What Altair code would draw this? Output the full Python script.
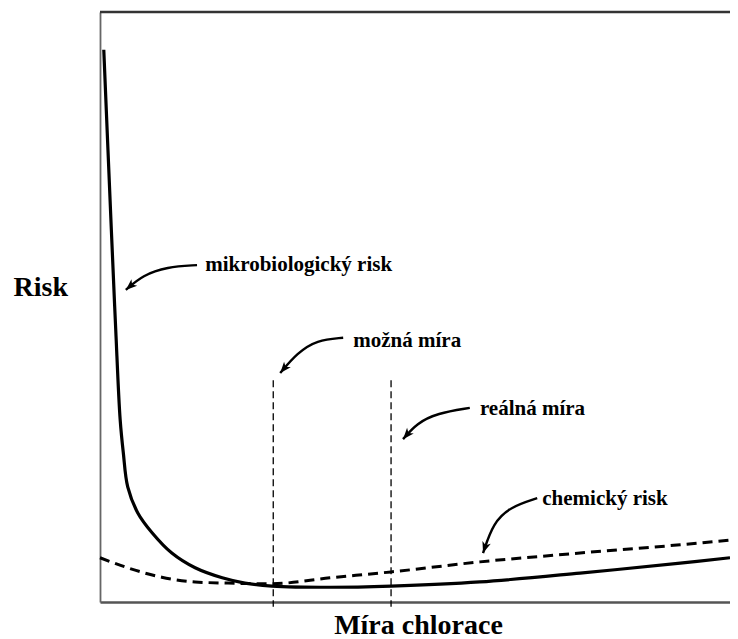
import math
import altair as alt
import pandas as pd

W, H = 630, 590
FONT = "Liberation Serif"

# --- data (nominal units 0..100 on both axes) ---
micro_x = [0.6, 1.8, 2.5, 3.2, 3.7, 4.4, 6.0, 8.3, 11.4, 15.1, 19.4, 23.0, 27.3, 36.5, 46.2, 60.3, 76.2, 92.1, 100.0]
micro_y = [93.6, 63.1, 46.1, 30.9, 25.3, 19.5, 15.1, 11.7, 8.3, 5.8, 4.1, 3.2, 2.7, 2.5, 2.7, 3.4, 4.9, 6.6, 7.5]

chem_x = [0.0, 4.4, 9.8, 15.1, 20.3, 27.3, 36.5, 46.2, 60.3, 76.2, 92.1, 100.0]
chem_y = [7.5, 5.8, 4.2, 3.4, 3.2, 3.1, 4.1, 5.1, 6.8, 8.3, 9.7, 10.5]

level_x = [27.5, 46.2]          # možná míra, reálná míra
level_top = [37.6, 37.6]
level_bottom = [-0.8, -0.8]

label_text = ["mikrobiologický risk", "možná míra", "reálná míra", "chemický risk"]
label_x = [16.7, 40.2, 60.3, 70.2]
label_y = [56.1, 43.2, 31.7, 16.4]

arrow_x = [
    [15.4, 10.6, 6.8, 4.1],
    [38.6, 34.4, 31.3, 28.6],
    [58.7, 53.5, 50.3, 48.1],
    [69.4, 65.1, 62.4, 60.8],
]
arrow_y = [
    [57.1, 56.8, 55.4, 52.9],
    [44.8, 44.4, 42.2, 38.8],
    [32.9, 32.0, 30.3, 27.6],
    [17.6, 16.1, 13.4, 8.3],
]

# --- tables ---
micro_df = pd.DataFrame({"x": micro_x, "y": micro_y})
chem_df = pd.DataFrame({"x": chem_x, "y": chem_y})
level_df = pd.DataFrame({"x": level_x, "y": level_top, "y2": level_bottom})
label_df = pd.DataFrame({"text": label_text, "x": label_x, "y": label_y})

rows, heads = [], []
for i, (xs, ys) in enumerate(zip(arrow_x, arrow_y)):
    for j, (xx, yy) in enumerate(zip(xs, ys)):
        rows.append({"a": i, "o": j, "x": xx, "y": yy})
    dx = (xs[-1] - xs[-2]) * W / 100.0
    dy = -(ys[-1] - ys[-2]) * H / 100.0
    ang = math.degrees(math.atan2(dx, -dy)) % 360
    heads.append({"x": xs[-1], "y": ys[-1], "angle": ang})
arrow_df = pd.DataFrame(rows)
head_df = pd.DataFrame(heads)
top_df = pd.DataFrame({"y": [100.0]})

xs_scale = alt.Scale(domain=[0, 100], nice=False, zero=False)
ys_scale = alt.Scale(domain=[0, 100], nice=False, zero=False)

x_axis = alt.Axis(
    title="Míra chlorace", domain=True, domainColor="#555555", domainWidth=2.5,
    ticks=False, labels=False, grid=False,
    titleFont=FONT, titleFontSize=28, titleFontWeight="bold", titleColor="#000000",
    titleX=318, titleY=31, titleAlign="center", titleBaseline="alphabetic",
)
y_axis = alt.Axis(
    title="Risk", domain=True, domainColor="#666666", domainWidth=1.8,
    ticks=False, labels=False, grid=False,
    titleFont=FONT, titleFontSize=28, titleFontWeight="bold", titleColor="#000000",
    titleAngle=0, titleX=-87, titleY=283, titleAlign="left", titleBaseline="alphabetic",
)

micro = alt.Chart(micro_df).mark_line(
    color="#000000", strokeWidth=3.2, interpolate="catmull-rom"
).encode(
    x=alt.X("x:Q", scale=xs_scale, axis=x_axis),
    y=alt.Y("y:Q", scale=ys_scale, axis=y_axis),
)

chem = alt.Chart(chem_df).mark_line(
    color="#000000", strokeWidth=3, strokeDash=[10, 6], interpolate="monotone"
).encode(x=alt.X("x:Q", scale=xs_scale), y=alt.Y("y:Q", scale=ys_scale))

levels = alt.Chart(level_df).mark_rule(
    color="#000000", strokeWidth=1.3, strokeDash=[7, 4]
).encode(x=alt.X("x:Q", scale=xs_scale), y=alt.Y("y:Q", scale=ys_scale), y2="y2:Q")

top = alt.Chart(top_df).mark_rule(color="#333333", strokeWidth=2.5).encode(
    y=alt.Y("y:Q", scale=ys_scale)
)

arrows = alt.Chart(arrow_df).mark_line(
    color="#000000", strokeWidth=2.4, interpolate="basis"
).encode(
    x=alt.X("x:Q", scale=xs_scale), y=alt.Y("y:Q", scale=ys_scale),
    detail="a:N", order="o:Q",
)

heads_chart = alt.Chart(head_df).mark_point(
    shape="M0,0L0.45,1.15L0,0.85L-0.45,1.15Z", filled=True, opacity=1,
    color="#000000", size=380, strokeWidth=0,
).encode(
    x=alt.X("x:Q", scale=xs_scale), y=alt.Y("y:Q", scale=ys_scale),
    angle=alt.Angle("angle:Q", scale=None),
)

labels = alt.Chart(label_df).mark_text(
    align="left", baseline="alphabetic", font=FONT, fontSize=21,
    fontWeight="bold", color="#000000",
).encode(x=alt.X("x:Q", scale=xs_scale), y=alt.Y("y:Q", scale=ys_scale), text="text:N")

chart = alt.layer(top, levels, chem, micro, arrows, heads_chart, labels).properties(
    width=W, height=H,
    autosize=alt.AutoSizeParams(type="none"),
    padding={"left": 92, "top": 4, "right": 0, "bottom": 37},
).configure_view(stroke=None).configure(background="#ffffff")

chart.save("out.html", embed_options={"renderer": "svg", "actions": False})
